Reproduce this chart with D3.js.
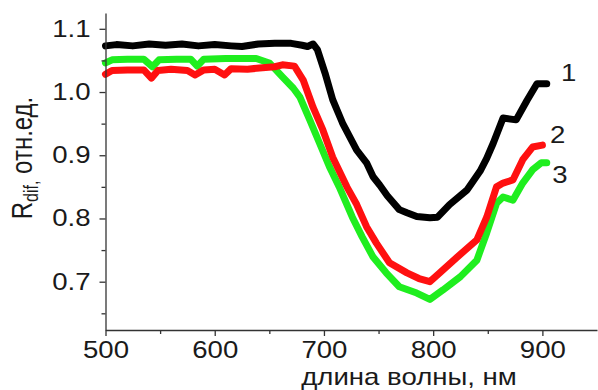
<!DOCTYPE html>
<html>
<head>
<meta charset="utf-8">
<script src="https://cdn.jsdelivr.net/npm/d3@7"></script>
<style>
  body { margin: 0; background: #fff; }
  text { font-family: Arial, "Liberation Sans", sans-serif; fill: #1a1a1a; }
</style>
</head>
<body>
<div id="chart"></div>
<script>
// spectra: [wavelength nm, R_dif]
const curve1 = [
  [500,1.073],[510,1.075],[525,1.073],[540,1.076],[555,1.074],[570,1.076],
  [585,1.073],[600,1.075],[615,1.073],[625,1.072],[640,1.076],[655,1.077],
  [670,1.077],[680,1.074],[685,1.072],[690,1.076],[694,1.067],[701,1.030],
  [708,0.988],[717,0.951],[730,0.908],[739,0.888],[745,0.866],[751,0.853],
  [758,0.836],[769,0.814],[776,0.809],[785,0.803],[797,0.801],[804,0.802],
  [815,0.822],[831,0.845],[843,0.875],[849,0.895],[855,0.919],[864,0.959],
  [876,0.956],[886,0.987],[895,1.013],[904,1.013]
];
const curve2 = [
  [500,1.028],[506,1.034],[520,1.035],[535,1.035],[542,1.022],[548,1.034],
  [560,1.036],[575,1.034],[582,1.027],[590,1.035],[600,1.036],[609,1.027],
  [615,1.037],[630,1.036],[641,1.038],[655,1.040],[662,1.043],[673,1.041],
  [681,1.019],[690,0.976],[699,0.940],[708,0.897],[721,0.850],[730,0.822],
  [739,0.787],[748,0.761],[760,0.730],[776,0.714],[787,0.705],[797,0.700],
  [806,0.714],[822,0.739],[840,0.766],[849,0.802],[858,0.850],[864,0.856],
  [873,0.861],[882,0.893],[891,0.913],[900,0.916]
];
const curve3 = [
  [500,1.046],[506,1.051],[520,1.052],[535,1.052],[543,1.040],[549,1.051],
  [565,1.052],[578,1.052],[584,1.041],[590,1.052],[610,1.053],[625,1.053],
  [638,1.053],[650,1.046],[662,1.024],[672,1.006],[678,0.992],[687,0.956],
  [696,0.919],[705,0.882],[714,0.850],[726,0.802],[735,0.771],[745,0.739],
  [757,0.714],[769,0.692],[785,0.682],[797,0.672],[809,0.687],[825,0.708],
  [840,0.734],[849,0.777],[858,0.824],[864,0.834],[873,0.829],[882,0.856],
  [891,0.877],[899,0.888],[904,0.888]
];
const seriesNames = ["1", "2", "3"];
const labelAt = [[924,1.030],[914,0.932],[916,0.869]];
const xTicks = [500, 600, 700, 800, 900];
const xMinor = [550, 650, 750, 850];
const yTicks = [0.7, 0.8, 0.9, 1.0, 1.1];
const yMinor = [0.65, 0.75, 0.85, 0.95, 1.05];

const W = 598, H = 390;
const margin = { left: 105.5, right: 1, top: 13, bottom: 60 };
const stretch = "scale(1.2,1)";

const svg = d3.select("#chart").append("svg")
    .attr("width", W)
    .attr("height", H);

const x = d3.scaleLinear().domain([500, 950]).range([margin.left, W - margin.right]);
const y = d3.scaleLinear().domain([0.6236, 1.125]).range([H - margin.bottom, margin.top]);

// curves first so axes sit on top
const line = d3.line()
    .x(d => x(d[0]))
    .y(d => y(d[1]));

const series = [
  { data: curve3, color: "#1fee1f" },
  { data: curve2, color: "#ff1010" },
  { data: curve1, color: "#000000" }
];

svg.selectAll(".curve")
    .data(series)
    .enter().append("path")
    .attr("class", "curve")
    .attr("fill", "none")
    .attr("stroke", d => d.color)
    .attr("stroke-width", 7)
    .attr("stroke-linejoin", "round")
    .attr("stroke-linecap", "round")
    .attr("d", d => line(d.data));

// axes
svg.append("g")
    .attr("transform", "translate(0," + (H - margin.bottom) + ")")
    .call(d3.axisBottom(x).tickValues(xTicks).tickFormat(d3.format("d"))
        .tickSize(6).tickSizeOuter(0).tickPadding(6));

svg.append("g")
    .attr("transform", "translate(0," + (H - margin.bottom) + ")")
    .call(d3.axisBottom(x).tickValues(xMinor).tickFormat("").tickSize(4).tickSizeOuter(0))
    .select(".domain").remove();

svg.append("g")
    .attr("transform", "translate(" + margin.left + ",0)")
    .call(d3.axisLeft(y).tickValues(yTicks).tickFormat(d3.format(".1f"))
        .tickSize(6).tickSizeOuter(0).tickPadding(6.5));

svg.append("g")
    .attr("transform", "translate(" + margin.left + ",0)")
    .call(d3.axisLeft(y).tickValues(yMinor).tickFormat("").tickSize(4).tickSizeOuter(0))
    .select(".domain").remove();

svg.selectAll(".domain, .tick line")
    .attr("stroke", "#333")
    .attr("stroke-width", 1.3);

svg.selectAll(".tick text")
    .attr("font-size", 23)
    .attr("fill", "#1a1a1a")
    .attr("transform", stretch);

// axis titles
svg.append("text")
    .attr("transform", "translate(409,385) " + stretch)
    .attr("text-anchor", "middle")
    .attr("font-size", 23)
    .text("длина волны, нм");

const yTitle = svg.append("text")
    .attr("transform", "translate(32,158) rotate(-90) scale(1,1.25)")
    .attr("text-anchor", "middle")
    .attr("font-size", 24);
yTitle.append("tspan").text("R");
yTitle.append("tspan").attr("font-size", 16).attr("dy", 5).text("dif,");
yTitle.append("tspan").attr("dy", -5).text(" отн.ед.");

// curve numbers
svg.selectAll(".num")
    .data(seriesNames)
    .enter().append("text")
    .attr("class", "num")
    .attr("transform", (d, i) => "translate(" + x(labelAt[i][0]) + "," + y(labelAt[i][1]) + ") " + stretch)
    .attr("text-anchor", "middle")
    .attr("dy", "0.36em")
    .attr("font-size", 23)
    .text(d => d);
</script>
</body>
</html>
